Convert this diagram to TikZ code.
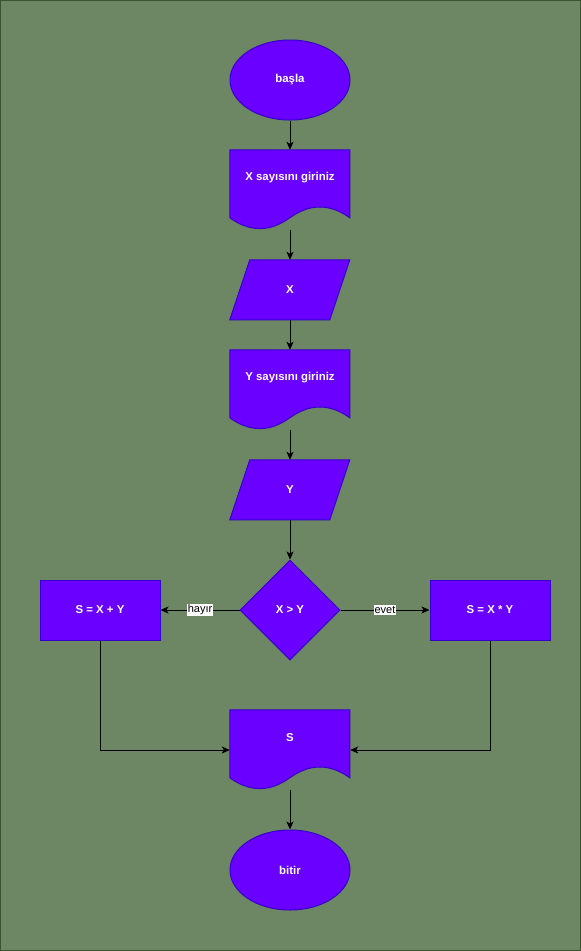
\documentclass[tikz,border=0pt]{standalone}
\usepackage{fontspec}
\setmainfont{Liberation Sans}
\usetikzlibrary{shapes.geometric,arrows.meta}
\definecolor{bgfill}{HTML}{6D8764}
\definecolor{bgline}{HTML}{3A5431}
\definecolor{flowfill}{HTML}{6A00FF}
\definecolor{flowline}{HTML}{3700CC}
\tikzset{
  shapestyle/.style={fill=flowfill, draw=flowline, line width=1pt},
  wtext/.style={text=white, font=\bfseries\fontsize{11.4}{14}\selectfont, inner sep=0pt},
  term/.style={shapestyle, wtext, ellipse, minimum width=120pt, minimum height=80pt},
  proc/.style={shapestyle, wtext, rectangle, minimum width=120pt, minimum height=60pt},
  dec/.style={shapestyle, wtext, diamond, minimum width=100pt, minimum height=100pt, aspect=1},
  docframe/.style={rectangle, minimum width=120pt, minimum height=80pt, inner sep=0pt},
  parframe/.style={rectangle, minimum width=120pt, minimum height=60pt, inner sep=0pt},
  arr/.style={draw=black, line width=1pt, -{Stealth[length=8pt,width=7pt,inset=2pt]}},
  elabel/.style={fill=white, text=black, font=\fontsize{11}{13}\selectfont, inner sep=1pt}
}
\begin{document}
\begin{tikzpicture}[x=1pt,y=-1pt]
\path[fill=bgfill, draw=bgline, line width=1pt] (0.5,0.5) rectangle (580.5,950.5);
\useasboundingbox (0,0) rectangle (581,951);

% start
\node[term] (start) at (290,80) {başla};

% document X
\node[docframe] (dx) at (290,190) {};
\begin{scope}[shift={(dx.north west)}]
\draw[shapestyle] (0,0) -- (120,0) -- (120,68) .. controls (100,53.6) and (80,53.6) .. (60,68)
  .. controls (40,82.4) and (20,82.4) .. (0,68) -- cycle;
\end{scope}
\node[wtext] (dxt) at (290,178) {X sayısını giriniz};

% input X
\node[parframe] (px) at (290,290) {};
\begin{scope}[shift={(px.north west)}]
\draw[shapestyle] (20,0) -- (120,0) -- (100,60) -- (0,60) -- cycle;
\end{scope}
\node[wtext] (pxt) at (290,290) {X};

% document Y
\node[docframe] (dy) at (290,390) {};
\begin{scope}[shift={(dy.north west)}]
\draw[shapestyle] (0,0) -- (120,0) -- (120,68) .. controls (100,53.6) and (80,53.6) .. (60,68)
  .. controls (40,82.4) and (20,82.4) .. (0,68) -- cycle;
\end{scope}
\node[wtext] (dyt) at (290,378) {Y sayısını giriniz};

% input Y
\node[parframe] (py) at (290,490) {};
\begin{scope}[shift={(py.north west)}]
\draw[shapestyle] (20,0) -- (120,0) -- (100,60) -- (0,60) -- cycle;
\end{scope}
\node[wtext] (pyt) at (290,490) {Y};

% decision
\node[dec] (cmp) at (290,610) {X > Y};

% processes
\node[proc] (padd) at (100,610) {S = X + Y};
\node[proc] (pmul) at (490,610) {S = X * Y};

% document S
\node[docframe] (ds) at (290,750) {};
\begin{scope}[shift={(ds.north west)}]
\draw[shapestyle] (0,0) -- (120,0) -- (120,68) .. controls (100,53.6) and (80,53.6) .. (60,68)
  .. controls (40,82.4) and (20,82.4) .. (0,68) -- cycle;
\end{scope}
\node[wtext] (dst) at (290,738) {S};

% end
\node[term] (stop) at (290,870) {bitir};

% connectors
\draw[arr] (start) -- (dx);
\draw[arr] (dx) -- (px);
\draw[arr] (px) -- (dy);
\draw[arr] (dy) -- (py);
\draw[arr] (py) -- (cmp);
\draw[arr] (cmp.west) -- node[elabel] {hayır} (padd.east);
\draw[arr] (cmp.east) -- node[elabel] {evet} (pmul.west);
\draw[arr] (padd.south) |- (ds.west);
\draw[arr] (pmul.south) |- (ds.east);
\draw[arr] (ds) -- (stop);
\end{tikzpicture}
\end{document}
